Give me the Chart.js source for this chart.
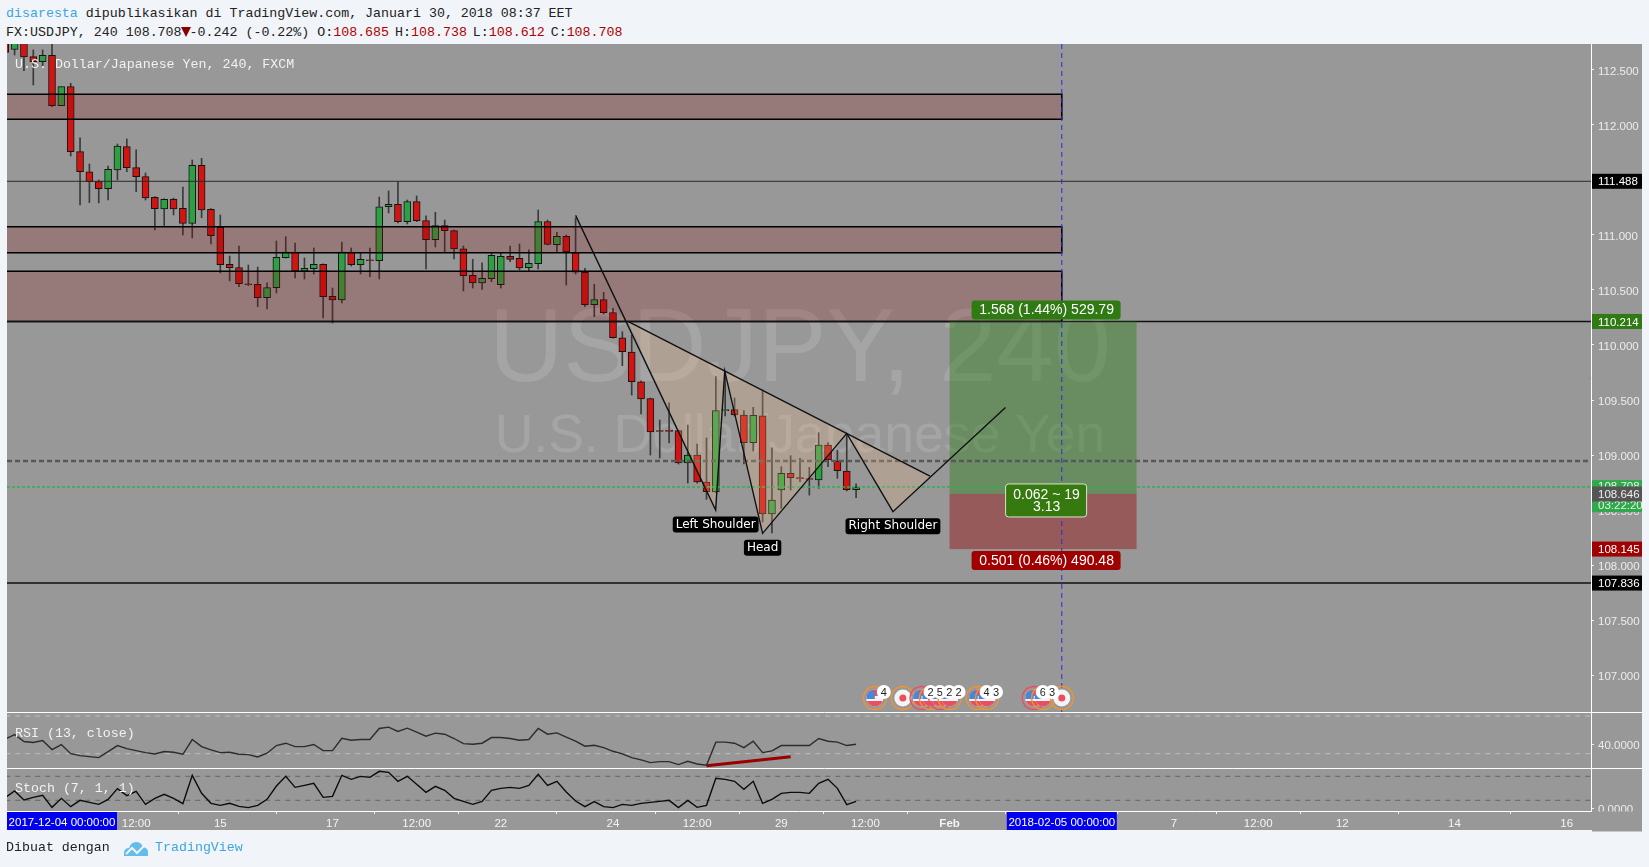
<!DOCTYPE html>
<html>
<head>
<meta charset="utf-8">
<title>USDJPY, 240</title>
<style>
  html, body { margin: 0; padding: 0; background: #f1f4f8; overflow: hidden; }
  #panel { position: absolute; left: 7px; top: 44px; width: 1635px; height: 786px; background: #989898; }
  #wrap { position: absolute; left: 0; top: 0; width: 1649px; height: 867px; }
  .txt { position: absolute; left: 6px; font: 13.3px "Liberation Mono", monospace; color: #222; white-space: pre; line-height: 16px; }
  .blue { color: #3aa7e0; }
  .red { color: #b00000; }
  .tri { display: inline-block; width: 0; height: 0; margin: 0 -1px; vertical-align: -1px;
    border-left: 5px solid transparent; border-right: 5px solid transparent; border-top: 10px solid #8a0000; }
  .gap { margin-left: -2px; }
</style>
<script src="https://cdn.jsdelivr.net/npm/chart.js@4/dist/chart.umd.min.js"></script>
</head>
<body>
<div class="txt" style="top:6px"><span class="blue">disaresta</span> dipublikasikan di TradingView.com, Januari 30, 2018 08:37 EET</div>
<div class="txt" style="top:25px">FX:USDJPY, 240 108.708<span class="tri"></span>-0.242 (-0.22%) O:<span class="red">108.685</span> <span class="gap">H:</span><span class="red">108.738</span> <span class="gap">L:</span><span class="red">108.612</span> <span class="gap">C:</span><span class="red">108.708</span></div>
<div id="panel"></div>
<div id="wrap"><canvas id="chart" width="1649" height="867"></canvas></div>
<div class="txt" style="top:840px">Dibuat dengan</div>
<svg style="position:absolute;left:124px;top:841px" width="24" height="15" viewBox="0 0 24 15">
  <path d="M0 15 L0 11 Q1 7 5 7 Q7 1 12 1 Q17 1 19 6 Q24 7 24 11 L24 15 Z" fill="#63bce9"/>
  <path d="M2 13 L8 7 L13 12 L20 5" fill="none" stroke="#f1f4f8" stroke-width="2"/>
</svg>
<div class="txt blue" style="top:840px;left:155px">TradingView</div>

<script>
// candles, 4h bars (first one is cut by the left edge)
const opens = [112.92,112.686,112.76,112.621,112.575,112.634,112.175,112.348,111.757,111.575,
  111.485,111.421,111.591,111.803,111.612,111.530,111.343,111.236,111.325,111.243,
  111.106,111.634,111.234,111.070,110.734,110.703,110.557,110.552,110.430,110.521,
  110.794,110.845,110.670,110.694,110.734,110.443,110.409,110.845,110.730,110.775,
  110.766,111.257,111.279,111.121,111.303,111.130,110.957,111.085,111.039,110.875,
  110.634,110.564,110.603,110.548,110.806,110.788,110.703,110.739,111.121,110.912,
  110.988,110.839,110.661,110.366,110.412,110.294,110.066,109.936,109.666,109.512,
  109.222,109.225,109.221,108.927,109.000,108.755,108.664,109.403,109.412,109.364,
  109.112,109.357,108.464,108.682,108.834,108.794,108.785,108.773,109.091,108.945,
  108.855,108.685];
const highs = [112.98,112.85,112.85,112.682,112.682,112.736,112.348,112.379,111.882,111.645,
  111.5,111.627,111.827,111.873,111.773,111.564,111.348,111.330,111.336,111.436,
  111.682,111.697,111.240,111.182,110.809,110.900,110.727,110.709,110.566,110.945,
  110.985,110.927,110.791,110.882,110.738,110.518,110.936,110.882,110.839,110.882,
  111.345,111.400,111.485,111.318,111.355,111.173,111.206,111.136,111.045,110.900,
  110.779,110.748,110.836,110.833,110.900,110.918,110.864,111.227,111.136,111.025,
  111.000,111.155,110.697,110.552,110.479,110.334,110.121,110.091,109.675,109.518,
  109.318,109.475,109.225,109.273,109.100,109.155,109.712,109.757,109.518,109.403,
  109.434,109.591,109.066,108.894,108.994,108.970,108.888,109.203,109.112,109.045,
  109.188,108.738];
const lows = [112.62,112.636,112.494,112.364,112.530,112.166,112.175,111.718,111.273,111.294,
  111.291,111.318,111.5,111.575,111.394,111.318,111.045,111.073,111.182,111.000,
  110.973,111.157,110.918,110.655,110.582,110.530,110.539,110.348,110.327,110.473,
  110.79,110.609,110.600,110.645,110.245,110.200,110.382,110.718,110.645,110.621,
  110.600,111.200,111.109,111.100,111.121,110.691,110.891,110.848,110.782,110.491,
  110.518,110.506,110.575,110.518,110.757,110.682,110.673,110.691,110.909,110.848,
  110.545,110.645,110.348,110.257,110.282,110.061,109.812,109.545,109.373,109.000,
  108.973,109.109,108.918,108.745,108.745,108.597,108.657,109.355,109.355,108.918,
  109.036,108.391,108.291,108.515,108.682,108.757,108.636,108.697,108.894,108.788,
  108.673,108.612];
const closes = [112.66,112.76,112.618,112.575,112.634,112.175,112.348,111.757,111.575,111.485,
  111.421,111.597,111.809,111.612,111.530,111.336,111.239,111.325,111.236,111.106,
  111.634,111.227,110.994,110.730,110.703,110.557,110.548,110.430,110.521,110.797,
  110.845,110.670,110.697,110.734,110.439,110.409,110.845,110.730,110.779,110.766,
  111.257,111.279,111.121,111.303,111.130,110.957,111.085,111.039,110.873,110.630,
  110.564,110.606,110.815,110.806,110.779,110.700,110.743,111.121,110.915,110.988,
  110.845,110.661,110.366,110.412,110.294,110.066,109.939,109.666,109.509,109.209,
  109.215,109.215,108.927,109.000,108.755,108.666,109.403,109.412,109.364,109.112,
  109.361,108.464,108.591,108.834,108.794,108.785,108.778,109.091,108.955,108.857,
  108.685,108.708];

const rsi = [45.4,50.3,42.9,41.8,43.9,34.3,39.7,30.0,27.9,26.8,25.8,32.2,38.6,35.4,33.2,31.1,29.7,32.2,31.5,29.3,
  45.0,37.5,34.0,31.1,31.5,29.3,29.0,26.5,30.4,38.6,41.1,37.5,37.5,39.7,33.2,33.2,46.4,44.3,45.0,45.0,
  56.8,58.2,53.6,57.1,52.8,48.6,51.8,50.7,46.1,40.7,40.0,41.1,47.1,47.1,46.1,44.3,45.0,56.8,50.7,52.1,
  47.5,43.2,37.9,38.9,36.4,32.5,29.7,25.7,23.3,20.4,21.5,21.5,18.3,21.8,19.0,17.6,42.2,42.2,41.1,36.4,
  43.2,31.1,32.9,38.6,38.6,38.6,38.6,46.1,43.2,42.2,38.6,40.0];
const stoch = [26.6,43.3,20.8,27.4,32.4,2.4,24.9,4.1,19.9,14.9,9.9,22.4,49.1,31.6,42.4,9.9,24.9,34.9,24.9,11.6,
  82.4,37.4,12.4,7.4,12.4,4.9,1.6,7.4,22.4,55.8,79.9,52.4,57.4,62.4,27.4,29.9,82.4,72.4,79.9,77.4,
  92.4,89.9,67.4,79.9,59.9,39.9,54.9,44.9,24.9,17.4,9.9,17.4,44.9,49.9,52.4,49.9,57.4,84.9,57.4,67.4,
  40.8,18.3,4.1,16.6,4.1,1.6,9.9,7.4,12.4,14.9,17.4,19.9,1.6,19.9,2.4,7.4,74.9,72.4,67.4,47.4,
  67.4,12.4,22.4,37.4,39.9,39.9,37.4,62.4,72.4,49.9,9.1,17.4];
const rsiLevels = [70, 30];
const stochLevels = [80, 20];
const rsiTrendX = [75, 84];
const rsiTrendY = [17.2, 26.8];

// axis ticks (x in bar numbers, weekends are skipped so the axis is just the bar number)
const timeTicks = [14,23,35,44,53,65,74,83,92,101,113,125,134,143,155,167];
const timeLabels = ['12:00','15','17','12:00','22','24','12:00','29','12:00','Feb','','7','12:00','12','14','16'];
const priceTicks = [107,107.5,108,108.5,109,109.5,110,110.5,111,111.5,112,112.5];

// drawings on the price pane
const zones = [[112.279,112.052],[111.075,110.839],[110.670,110.214]];
const zoneEnd = 113;
const levels = [111.488,110.214,107.836];
const dashedLevel = 108.945;
const lastPrice = 108.708;
const patternX = [61,75.98,76.95,81,90,94.94,106.98];
const patternY = [111.178,108.5,109.764,108.288,109.197,108.485,109.432];
const neckX = [66.64,98.9];
const neckY = [110.212,108.809];
const shadeX = [66.64,76.95,90,98.9,94.94,90,81,76.95,75.98];
const shadeY = [110.212,109.764,109.197,108.809,108.485,109.197,108.288,109.764,108.5];
const noteText = ['Left Shoulder','Head','Right Shoulder'];
const noteX = [75.98,81,94.94];
const noteY = [108.5,108.288,108.485];

const posX = [101,121];
const posTop = 110.214, posEntry = 108.646, posStop = 108.145;

const eventBars = [93,96,98,99,100,101,104,105,110,111,113];
const eventFlag = ['us','jp','us','us','us','us','us','us','us','us','jp'];
const eventRing = ['o','o','r','o','r','o','o','o','r','o','o'];
const eventBadge = ['4','','2','5','2','2','4','3','6','3',''];

const tagPrice = [111.488,110.214,108.145,107.836];
const tagColor = ['#000000','#2f7a12','#a00000','#000000'];

const bars = opens.map((o, i) => i);
const ctxEl = document.getElementById('chart');

function roundBox(c, x, y, w, h, r, fill, stroke) {
  c.beginPath();
  c.roundRect(x, y, w, h, r);
  c.fillStyle = fill;
  c.fill();
  if (stroke) { c.strokeStyle = stroke; c.lineWidth = 1; c.stroke(); }
}

function label(c, text, x, y, color, font, align) {
  c.font = font;
  c.fillStyle = color;
  c.textAlign = align || 'center';
  c.textBaseline = 'middle';
  c.fillText(text, x, y);
}

function drawFlag(c, x, y, kind, ring) {
  c.beginPath();
  c.arc(x, y, 11.5, 0, Math.PI * 2);
  c.strokeStyle = ring === 'r' ? '#e8505f' : '#ee9433';
  c.lineWidth = 1.4;
  c.stroke();
  c.save();
  c.beginPath();
  c.arc(x, y, 8.5, 0, Math.PI * 2);
  c.fillStyle = '#f4f4f4';
  c.fill();
  c.clip();
  if (kind === 'us') {
    c.fillStyle = '#e8505f';
    c.fillRect(x - 9, y - 9, 18, 7);
    c.fillRect(x - 9, y + 3, 18, 6);
    c.fillStyle = '#f4f4f4';
    c.fillRect(x - 9, y + 1, 18, 2);
    c.fillStyle = '#4a86d8';
    c.fillRect(x - 9, y - 7, 9, 8);
  } else {
    c.fillStyle = '#e8505f';
    c.beginPath();
    c.arc(x, y, 3.5, 0, Math.PI * 2);
    c.fill();
  }
  c.restore();
}

// watermark goes under the candles
const watermark = {
  id: 'watermark',
  beforeDatasetsDraw(chart) {
    const c = chart.ctx;
    c.save();
    label(c, 'USDJPY, 240', 800, 353, 'rgba(255,255,255,0.13)', '103px "Liberation Sans"');
    label(c, 'U.S. Dollar/Japanese Yen', 800, 437, 'rgba(255,255,255,0.13)', '53.5px "Liberation Sans"');
    c.restore();
  }
};

// zones, trend lines, position tool, price tags
const drawings = {
  id: 'drawings',
  afterDatasetsDraw(chart) {
    const c = chart.ctx;
    const sx = chart.scales.x, sy = chart.scales.y;
    const left = sx.left, right = sx.right;
    const px = v => sx.getPixelForValue(v);
    const py = v => sy.getPixelForValue(v);
    c.save();
    c.beginPath();
    c.rect(left, sy.top, right - left, sy.bottom - sy.top);
    c.clip();

    zones.forEach(z => {
      const t = py(z[0]), b = py(z[1]), e = px(zoneEnd);
      c.fillStyle = 'rgba(143,0,0,0.2)';
      c.fillRect(left, t, e - left, b - t);
      c.strokeStyle = '#000';
      c.lineWidth = 1.6;
      c.beginPath();
      c.moveTo(left, t); c.lineTo(e, t); c.lineTo(e, b); c.lineTo(left, b);
      c.stroke();
    });

    levels.forEach((v, i) => {
      c.strokeStyle = i === 0 ? '#2a2a2a' : '#111';
      c.lineWidth = i === 0 ? 1 : 1.5;
      c.beginPath();
      c.moveTo(left, py(v)); c.lineTo(right, py(v));
      c.stroke();
    });

    // position tool
    const x0 = px(posX[0]), x1 = px(posX[1]);
    c.fillStyle = 'rgba(40,125,20,0.42)';
    c.fillRect(x0, py(posTop), x1 - x0, py(posEntry) - py(posTop));
    c.fillStyle = 'rgba(150,15,15,0.45)';
    c.fillRect(x0, py(posEntry), x1 - x0, py(posStop) - py(posEntry));

    c.setLineDash([5, 3]);
    c.strokeStyle = '#585858';
    c.lineWidth = 2.6;
    c.beginPath();
    c.moveTo(left, Math.round(py(dashedLevel))); c.lineTo(right, Math.round(py(dashedLevel)));
    c.stroke();
    c.setLineDash([3, 2]);
    c.strokeStyle = '#2fae48';
    c.lineWidth = 1.5;
    c.beginPath();
    c.moveTo(left, Math.round(py(lastPrice))); c.lineTo(right, Math.round(py(lastPrice)));
    c.stroke();
    c.setLineDash([5, 4]);
    c.strokeStyle = '#2a2ad8';
    c.lineWidth = 1;
    c.beginPath();
    c.moveTo(px(zoneEnd), sy.top); c.lineTo(px(zoneEnd), sy.bottom);
    c.stroke();
    c.setLineDash([]);

    // head and shoulders
    c.fillStyle = 'rgba(255,190,130,0.22)';
    c.beginPath();
    shadeX.forEach((x, i) => i ? c.lineTo(px(x), py(shadeY[i])) : c.moveTo(px(x), py(shadeY[i])));
    c.closePath();
    c.fill();
    c.strokeStyle = '#111';
    c.lineWidth = 1.4;
    c.beginPath();
    patternX.forEach((x, i) => i ? c.lineTo(px(x), py(patternY[i])) : c.moveTo(px(x), py(patternY[i])));
    c.stroke();
    c.beginPath();
    c.moveTo(px(neckX[0]), py(neckY[0])); c.lineTo(px(neckX[1]), py(neckY[1]));
    c.stroke();

    noteText.forEach((t, i) => {
      const f = '12px "DejaVu Sans"';
      c.font = f;
      const w = c.measureText(t).width + 6;
      const x = px(noteX[i]), y = py(noteY[i]) + 14.5;
      roundBox(c, x - w / 2, y - 8, w, 16, 3, '#000');
      label(c, t, x, y, '#fff', f);
    });

    eventBars.forEach((b, i) => drawFlag(c, px(b), 698, eventFlag[i], eventRing[i]));
    eventBars.forEach((b, i) => {
      if (!eventBadge[i]) return;
      roundBox(c, px(b) + 2, 685, 14, 14, 7, '#fff');
      label(c, eventBadge[i], px(b) + 9, 692.5, '#222', '11px "Liberation Sans"');
    });

    // position tags
    const f = '14px "Liberation Sans"';
    const midX = (x0 + x1) / 2 + 3.5;
    roundBox(c, midX - 75, py(posTop) - 21, 149, 19, 3, '#2f7a12');
    label(c, '1.568 (1.44%) 529.79', midX, py(posTop) - 11, '#fff', f);
    roundBox(c, midX - 75, py(posStop) + 2, 149, 19, 3, '#a00000');
    label(c, '0.501 (0.46%) 490.48', midX, py(posStop) + 12, '#fff', f);
    roundBox(c, midX - 41, py(posEntry) - 10, 81, 33, 3, '#35790f', '#d8e4d0');
    label(c, '0.062 ~ 19', midX, py(posEntry) + 1, '#fff', f);
    label(c, '3.13', midX, py(posEntry) + 13, '#fff', f);

    const legendFont = '13.3px "Liberation Mono"';
    label(c, 'U.S. Dollar/Japanese Yen, 240, FXCM', 15, 64, '#f2f2f2', legendFont, 'left');
    c.restore();

    label(c, 'RSI (13, close)', 15, chart.scales.yRsi.top + 21, '#f2f2f2', legendFont, 'left');
    label(c, 'Stoch (7, 1, 1)', 15, chart.scales.yStoch.top + 20, '#f2f2f2', legendFont, 'left');

    // pane separators
    const outer = chart.width - 7;
    c.strokeStyle = '#fff';
    c.lineWidth = 1;
    [chart.scales.yRsi.top, chart.scales.yStoch.top].forEach(y => {
      c.beginPath();
      c.moveTo(left, Math.round(y) + 0.5); c.lineTo(outer, Math.round(y) + 0.5);
      c.stroke();
    });

    // right axis tags
    const tagFont = '11.5px "Liberation Sans"';
    const tagLeft = right + 1, tagW = outer - tagLeft;
    c.fillStyle = '#2eaa4a';
    c.fillRect(tagLeft, py(lastPrice) - 7, tagW, 32);
    label(c, '108.708', right + 7, py(lastPrice), '#eee', tagFont, 'left');
    label(c, '03:22:20', right + 7, py(lastPrice) + 19, '#eee', tagFont, 'left');
    c.fillStyle = '#555';
    c.fillRect(tagLeft, py(posEntry) - 7.5, tagW, 15);
    label(c, '108.646', right + 7, py(posEntry) + 1, '#eee', tagFont, 'left');
    tagPrice.forEach((v, i) => {
      c.fillStyle = tagColor[i];
      c.fillRect(tagLeft, py(v) - 7.5, tagW, 15);
      label(c, v.toFixed(3), right + 7, py(v) + 1, '#fff', tagFont, 'left');
    });

    // time axis: gray band hides the cut tick label, blue boxes for the range ends
    const bottom = chart.scales.yStoch.bottom;
    c.fillStyle = '#989898';
    c.fillRect(right + 1, bottom + 0.5, outer - right - 1, 20);
    c.fillStyle = '#0000ee';
    c.fillRect(left, bottom + 1, 110, 18);
    label(c, '2017-12-04 00:00:00', left + 55, bottom + 12, '#fff', tagFont);
    c.fillStyle = '#0000ee';
    c.fillRect(px(zoneEnd) - 55, bottom + 1, 110, 18);
    label(c, '2018-02-05 00:00:00', px(zoneEnd), bottom + 12, '#fff', tagFont);
  }
};

function paneAxis(min, max, weight, ticks, digits) {
  return {
    position: 'right',
    stack: 'panes',
    stackWeight: weight,
    min: min,
    max: max,
    grid: { drawOnChartArea: false, tickLength: 3, tickColor: '#eee' },
    border: { color: '#fff' },
    afterFit: axis => { axis.width = 51; },
    afterBuildTicks: axis => { axis.ticks = ticks.map(v => ({ value: v })); },
    ticks: {
      color: '#ececec',
      padding: 4,
      autoSkip: false,
      maxRotation: 0,
      // empty first line with a tiny line height moves the text down a little
      font: { family: '"Liberation Sans"', size: 11.5, lineHeight: '3px' },
      callback: v => ['', Number(v).toFixed(digits)]
    }
  };
}

function levelLine(values, axisId, color) {
  return values.map(v => ({
    type: 'line',
    yAxisID: axisId,
    data: [{ x: 0, y: v }, { x: 170, y: v }],
    borderColor: color,
    borderWidth: 1,
    borderDash: [5, 5],
    pointRadius: 0
  }));
}

new Chart(ctxEl, {
  type: 'bar',
  data: {
    datasets: [
      {
        grouped: false,
        yAxisID: 'y',
        data: bars.map(i => ({ x: i, y: [opens[i], closes[i]] })),
        backgroundColor: bars.map(i => closes[i] >= opens[i] ? '#2ea043' : '#d01512'),
        borderColor: '#141414',
        borderWidth: 1,
        borderSkipped: false,
        barThickness: 7
      },
      {
        grouped: false,
        yAxisID: 'y',
        data: bars.map(i => ({ x: i, y: [lows[i], highs[i]] })),
        backgroundColor: '#3a3a3a',
        borderWidth: 0,
        barThickness: 1
      },
      {
        type: 'line',
        yAxisID: 'yRsi',
        data: bars.map(i => ({ x: i, y: rsi[i] })),
        borderColor: '#2c2c2c',
        borderWidth: 1.4,
        pointRadius: 0,
        tension: 0
      },
      {
        type: 'line',
        yAxisID: 'yRsi',
        data: rsiTrendX.map((x, i) => ({ x: x, y: rsiTrendY[i] })),
        borderColor: '#990000',
        borderWidth: 3,
        pointRadius: 0
      },
      {
        type: 'line',
        yAxisID: 'yStoch',
        data: bars.map(i => ({ x: i, y: stoch[i] })),
        borderColor: '#0c0c0c',
        borderWidth: 1.4,
        pointRadius: 0,
        tension: 0
      },
      ...levelLine(rsiLevels, 'yRsi', '#bdbdbd'),
      ...levelLine(stochLevels, 'yStoch', '#666666')
    ]
  },
  options: {
    responsive: false,
    animation: false,
    events: [],
    layout: { padding: { left: 7, top: 44, right: 7, bottom: 37 } },
    plugins: { legend: { display: false }, tooltip: { enabled: false } },
    scales: {
      x: {
        type: 'linear',
        position: 'bottom',
        min: 0.187,
        max: 169.6,
        offset: false,
        afterFit: axis => { axis.height = 19; },
        afterBuildTicks: axis => { axis.ticks = timeTicks.map(v => ({ value: v })); },
        grid: { drawOnChartArea: false, tickLength: 3, tickColor: '#eee' },
        border: { color: '#fff' },
        ticks: {
          color: '#f4f4f4',
          padding: 3,
          autoSkip: false,
          maxRotation: 0,
          font: ctx => ({
            family: '"Liberation Sans"',
            size: 11.5,
            weight: timeLabels[ctx.index] === 'Feb' ? 'bold' : 'normal'
          }),
          callback: v => timeLabels[timeTicks.indexOf(v)]
        }
      },
      y: paneAxis(106.664, 112.736, 668, priceTicks, 3),
      yRsi: paneAxis(14.4, 74.3, 56.3, [40], 4),
      yStoch: paneAxis(-6.75, 100, 42.7, [0], 4)
    }
  },
  plugins: [watermark, drawings]
});
</script>
</body>
</html>
